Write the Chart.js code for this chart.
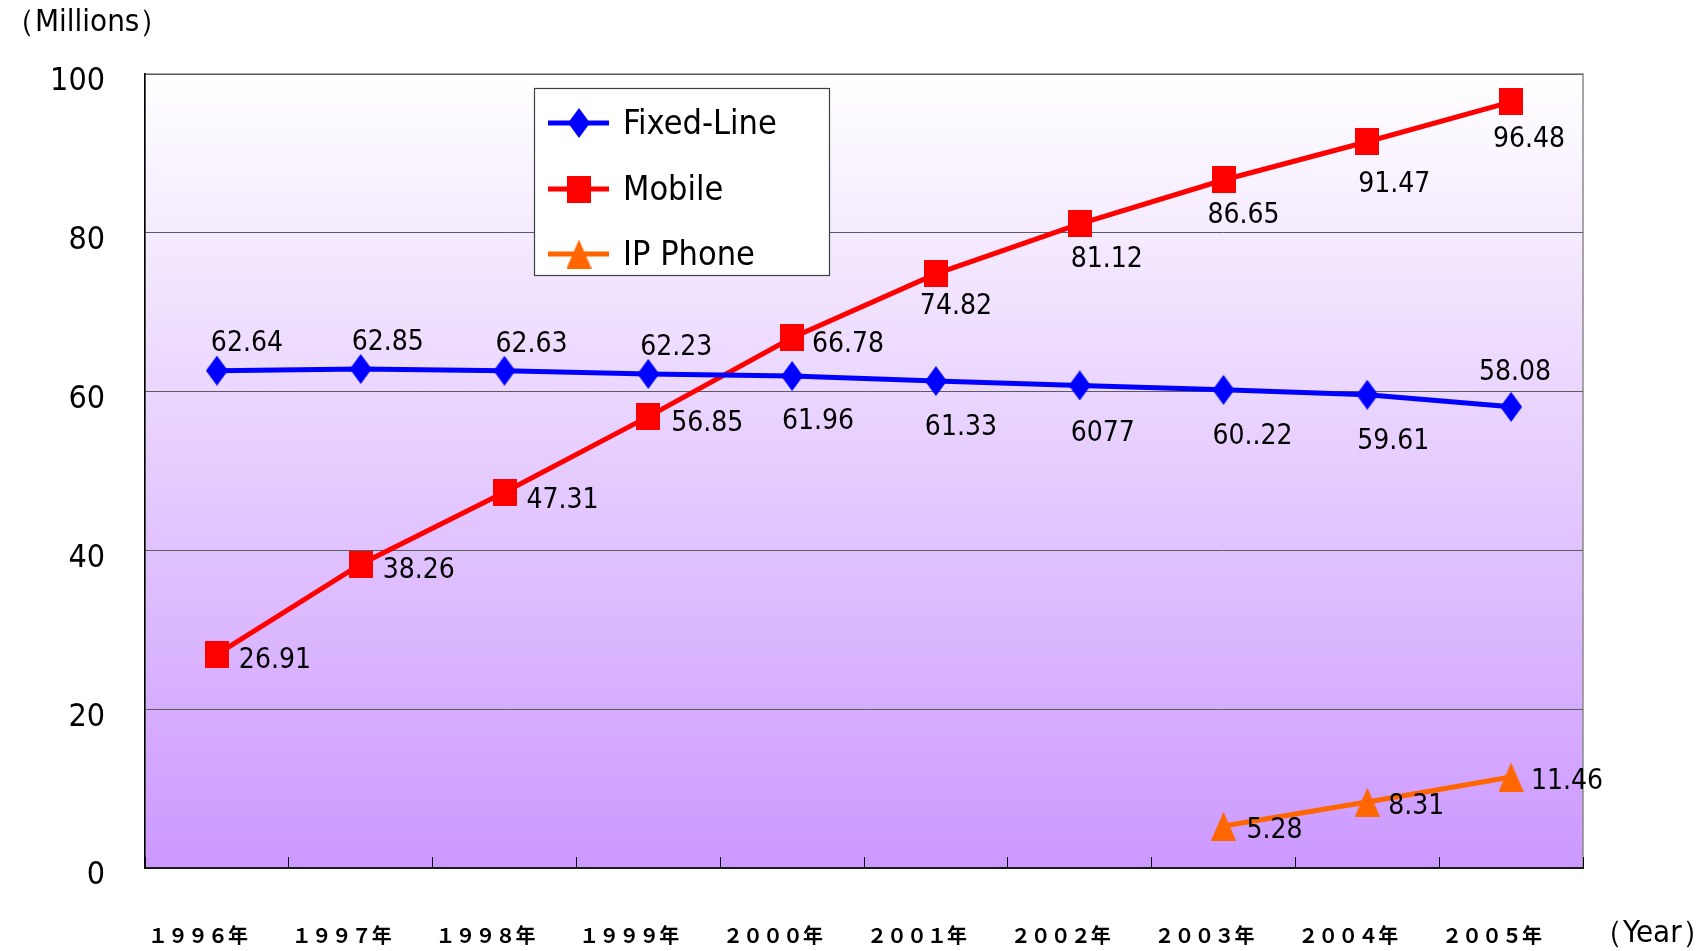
<!DOCTYPE html>
<html>
<head>
<meta charset="utf-8">
<script src="https://cdn.jsdelivr.net/npm/chart.js@4.4.1/dist/chart.umd.min.js"></script>
<style>
  html, body { margin: 0; padding: 0; background: #ffffff; }
  canvas { display: block; }
</style>
</head>
<body>
<canvas id="c" width="1702" height="951"></canvas>
<script>
// Subscribers by fiscal year (millions)
const years = ['１９９６年', '１９９７年', '１９９８年', '１９９９年', '２０００年',
               '２００１年', '２００２年', '２００３年', '２００４年', '２００５年'];
const fixedLine = [62.64, 62.85, 62.63, 62.23, 61.96, 61.33, 60.77, 60.22, 59.61, 58.08];
const mobile    = [26.91, 38.26, 47.31, 56.85, 66.78, 74.82, 81.12, 86.65, 91.47, 96.48];
const ipPhone   = [null, null, null, null, null, null, null, 5.28, 8.31, 11.46];

// Value labels as printed beside each point
const fixedText  = ['62.64', '62.85', '62.63', '62.23', '61.96', '61.33', '6077', '60..22', '59.61', '58.08'];
const mobileText = ['26.91', '38.26', '47.31', '56.85', '66.78', '74.82', '81.12', '86.65', '91.47', '96.48'];
const ipText     = [null, null, null, null, null, null, null, '5.28', '8.31', '11.46'];

const seriesNames = ['Fixed-Line', 'Mobile', 'IP Phone'];
const yTickValues = [0, 20, 40, 60, 80, 100];

// Where each value label sits relative to its point (dx, dy)
const fixedLabelPlace  = [[30,-27],[27,-26],[27,-26],[28,-26],[26,46],[25,47],[23,48],[29,47],[26,47],[4,-34]];
const mobileLabelPlace = [[58,6],[58,7],[58,8],[59,7],[56,7],[20,33],[27,36],[20,36],[27,43],[18,38]];
const ipLabelPlace     = [null,null,null,null,null,null,null,[51,5],[49,5],[56,5]];

const NARROW = "'Liberation Sans Narrow', 'DejaVu Sans Condensed', 'Arial Narrow', 'Liberation Sans', sans-serif";
const CJK = "'Noto Sans CJK JP', 'Noto Sans CJK SC', sans-serif";

function markerCanvas(shape, w, h, color) {
  const c = document.createElement('canvas');
  c.width = w; c.height = h;
  const g = c.getContext('2d');
  g.fillStyle = color;
  g.beginPath();
  if (shape === 'diamond') {
    g.moveTo(w / 2, 0); g.lineTo(w, h / 2); g.lineTo(w / 2, h); g.lineTo(0, h / 2);
  } else if (shape === 'square') {
    g.rect(0, 0, w, h);
  } else {
    g.moveTo(w / 2, 0); g.lineTo(w, h); g.lineTo(0, h);
  }
  g.closePath();
  g.fill();
  return c;
}

const BLUE = '#0000ff', RED = '#ff0000', ORANGE = '#ff6600';
const diamond = markerCanvas('diamond', 22, 30, BLUE);
const square = markerCanvas('square', 24, 27, RED);
const triangle = markerCanvas('triangle', 25, 29, ORANGE);

// Plot background gradient and frame
const plotBackground = {
  id: 'plotBackground',
  beforeDraw(chart) {
    const { ctx, chartArea: a } = chart;
    const grad = ctx.createLinearGradient(0, a.top, 0, a.bottom);
    grad.addColorStop(0, '#ffffff');
    grad.addColorStop(1, '#cc99ff');
    ctx.save();
    ctx.fillStyle = grad;
    ctx.fillRect(a.left, a.top, a.right - a.left, a.bottom - a.top);
    ctx.strokeStyle = '#8a8a8a';
    ctx.lineWidth = 1.5;
    ctx.strokeRect(a.left, a.top, a.right - a.left, a.bottom - a.top);
    ctx.restore();
  }
};

// Value labels next to the points
const valueLabels = {
  id: 'valueLabels',
  afterDatasetsDraw(chart) {
    const { ctx } = chart;
    ctx.save();
    ctx.font = "28px " + NARROW;
    ctx.fillStyle = '#000000';
    ctx.textAlign = 'center';
    ctx.textBaseline = 'middle';
    chart.data.datasets.forEach((ds, di) => {
      const meta = chart.getDatasetMeta(di);
      ds.valueText.forEach((t, i) => {
        if (t == null) return;
        const p = meta.data[i];
        const off = ds.labelPlace[i];
        ctx.fillText(t, p.x + off[0], p.y + off[1]);
      });
    });
    ctx.restore();
  }
};

// Legend box, axis captions
const annotations = {
  id: 'annotations',
  afterDraw(chart) {
    const { ctx } = chart;
    ctx.save();
    // legend
    const bx = 534, by = 88, bw = 295, bh = 187;
    ctx.fillStyle = '#ffffff';
    ctx.fillRect(bx, by, bw, bh);
    ctx.strokeStyle = '#404040';
    ctx.lineWidth = 1.2;
    ctx.strokeRect(bx + 0.5, by + 0.5, bw, bh);
    const rows = [123, 189, 254];
    chart.data.datasets.forEach((ds, i) => {
      const y = rows[i];
      ctx.strokeStyle = ds.borderColor;
      ctx.lineWidth = 5;
      ctx.beginPath();
      ctx.moveTo(548, y);
      ctx.lineTo(609, y);
      ctx.stroke();
      const m = ds.pointStyle;
      ctx.drawImage(m, 579 - m.width / 2, y - m.height / 2);
      ctx.fillStyle = '#000000';
      ctx.font = "34px " + NARROW;
      ctx.textAlign = 'left';
      ctx.textBaseline = 'middle';
      ctx.fillText(ds.label, 623, y + 2);
    });
    // axis captions
    ctx.fillStyle = '#000000';
    ctx.font = "31px " + NARROW;
    ctx.textAlign = 'left';
    ctx.textBaseline = 'middle';
    ctx.fillText('（Millions）', 4, 23);
    ctx.fillText('（Year）', 1592, 934);
    ctx.restore();
  }
};

new Chart(document.getElementById('c'), {
  type: 'line',
  data: {
    labels: years,
    datasets: [
      { label: seriesNames[0], data: fixedLine, valueText: fixedText, labelPlace: fixedLabelPlace,
        borderColor: BLUE, backgroundColor: BLUE, pointStyle: diamond },
      { label: seriesNames[1], data: mobile, valueText: mobileText, labelPlace: mobileLabelPlace,
        borderColor: RED, backgroundColor: RED, pointStyle: square },
      { label: seriesNames[2], data: ipPhone, valueText: ipText, labelPlace: ipLabelPlace,
        borderColor: ORANGE, backgroundColor: ORANGE, pointStyle: triangle }
    ].map(d => Object.assign({ borderWidth: 5, pointRadius: 12, pointHoverRadius: 12,
                               tension: 0, spanGaps: false, fill: false }, d))
  },
  options: {
    responsive: false,
    animation: false,
    events: [],
    layout: { padding: { left: 0, top: 74, right: 119, bottom: 0 } },
    plugins: { legend: { display: false }, tooltip: { enabled: false }, title: { display: false } },
    scales: {
      x: {
        offset: true,
        grid: { offset: true, drawOnChartArea: false, drawTicks: true, tickLength: -11, color: '#000000', lineWidth: 1 },
        border: { display: true, color: '#1a1a1a', width: 2 },
        ticks: { font: { family: CJK, size: 20, weight: 'bold' }, color: '#000000', padding: 66, labelOffset: -19, maxRotation: 0, autoSkip: false },
        afterFit(s) { s.height = 83; }
      },
      y: {
        min: 0, max: 100,
        afterBuildTicks(s) { s.ticks = yTickValues.map(v => ({ value: v })); },
        grid: { drawTicks: false, color: '#5c5c5c', lineWidth: 1 },
        border: { display: true, color: '#000000', width: 1.5 },
        ticks: { font: { family: NARROW, size: 32 }, color: '#000000', padding: 40, labelOffset: 8 },
        afterFit(s) { s.width = 145; }
      }
    }
  },
  plugins: [plotBackground, valueLabels, annotations]
});
</script>
</body>
</html>
